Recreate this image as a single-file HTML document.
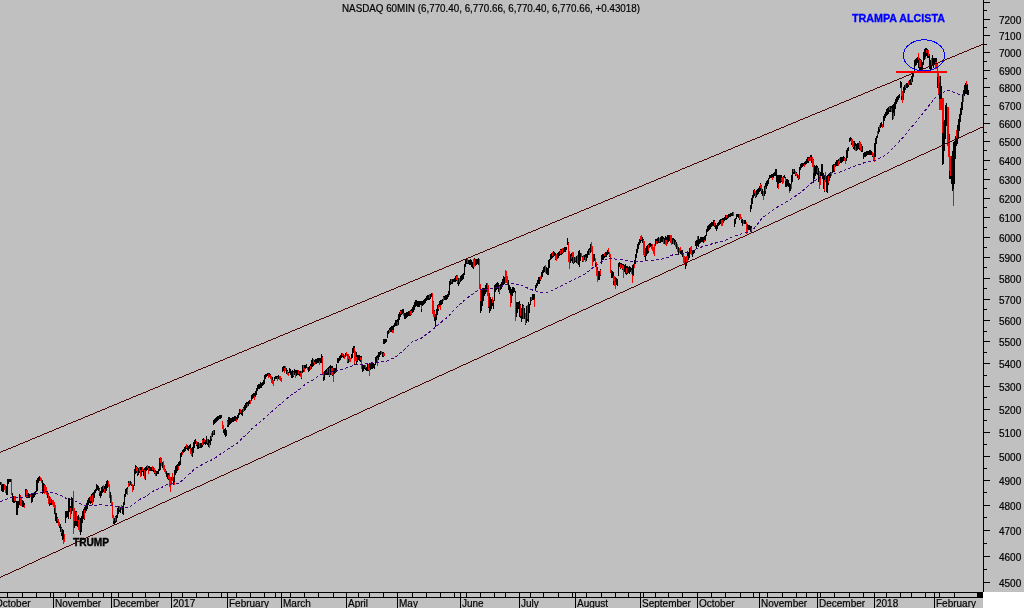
<!DOCTYPE html>
<html><head><meta charset="utf-8"><style>
html,body{margin:0;padding:0;}
body{width:1024px;height:608px;background:#c0c0c0;position:relative;overflow:hidden;font-family:"Liberation Sans",sans-serif;}
svg{position:absolute;left:0;top:0;will-change:transform;}
.ax{font-family:"Liberation Sans",sans-serif;font-size:10px;fill:#000;stroke:#000;stroke-width:0.2px;}
.bd{font-family:"Liberation Sans",sans-serif;font-size:11.6px;font-weight:bold;}
</style></head><body>
<svg width="1024" height="608" viewBox="0 0 1024 608" shape-rendering="crispEdges">
<rect x="983" y="592" width="41" height="16" fill="#fff"/>
<rect x="983" y="0" width="1" height="592" fill="#000"/>
<rect x="984" y="582" width="6" height="1" fill="#000"/>
<rect x="984" y="569" width="3" height="1" fill="#000"/>
<rect x="984" y="556" width="6" height="1" fill="#000"/>
<rect x="984" y="543" width="3" height="1" fill="#000"/>
<rect x="984" y="530" width="6" height="1" fill="#000"/>
<rect x="984" y="517" width="3" height="1" fill="#000"/>
<rect x="984" y="505" width="6" height="1" fill="#000"/>
<rect x="984" y="492" width="3" height="1" fill="#000"/>
<rect x="984" y="480" width="6" height="1" fill="#000"/>
<rect x="984" y="468" width="3" height="1" fill="#000"/>
<rect x="984" y="456" width="6" height="1" fill="#000"/>
<rect x="984" y="444" width="3" height="1" fill="#000"/>
<rect x="984" y="432" width="6" height="1" fill="#000"/>
<rect x="984" y="420" width="3" height="1" fill="#000"/>
<rect x="984" y="409" width="6" height="1" fill="#000"/>
<rect x="984" y="397" width="3" height="1" fill="#000"/>
<rect x="984" y="386" width="6" height="1" fill="#000"/>
<rect x="984" y="375" width="3" height="1" fill="#000"/>
<rect x="984" y="363" width="6" height="1" fill="#000"/>
<rect x="984" y="352" width="3" height="1" fill="#000"/>
<rect x="984" y="341" width="6" height="1" fill="#000"/>
<rect x="984" y="331" width="3" height="1" fill="#000"/>
<rect x="984" y="320" width="6" height="1" fill="#000"/>
<rect x="984" y="309" width="3" height="1" fill="#000"/>
<rect x="984" y="299" width="6" height="1" fill="#000"/>
<rect x="984" y="288" width="3" height="1" fill="#000"/>
<rect x="984" y="278" width="6" height="1" fill="#000"/>
<rect x="984" y="267" width="3" height="1" fill="#000"/>
<rect x="984" y="257" width="6" height="1" fill="#000"/>
<rect x="984" y="247" width="3" height="1" fill="#000"/>
<rect x="984" y="237" width="6" height="1" fill="#000"/>
<rect x="984" y="227" width="3" height="1" fill="#000"/>
<rect x="984" y="217" width="6" height="1" fill="#000"/>
<rect x="984" y="207" width="3" height="1" fill="#000"/>
<rect x="984" y="198" width="6" height="1" fill="#000"/>
<rect x="984" y="188" width="3" height="1" fill="#000"/>
<rect x="984" y="179" width="6" height="1" fill="#000"/>
<rect x="984" y="169" width="3" height="1" fill="#000"/>
<rect x="984" y="160" width="6" height="1" fill="#000"/>
<rect x="984" y="150" width="3" height="1" fill="#000"/>
<rect x="984" y="141" width="6" height="1" fill="#000"/>
<rect x="984" y="132" width="3" height="1" fill="#000"/>
<rect x="984" y="123" width="6" height="1" fill="#000"/>
<rect x="984" y="114" width="3" height="1" fill="#000"/>
<rect x="984" y="105" width="6" height="1" fill="#000"/>
<rect x="984" y="96" width="3" height="1" fill="#000"/>
<rect x="984" y="87" width="6" height="1" fill="#000"/>
<rect x="984" y="78" width="3" height="1" fill="#000"/>
<rect x="984" y="70" width="6" height="1" fill="#000"/>
<rect x="984" y="61" width="3" height="1" fill="#000"/>
<rect x="984" y="52" width="6" height="1" fill="#000"/>
<rect x="984" y="44" width="3" height="1" fill="#000"/>
<rect x="984" y="35" width="6" height="1" fill="#000"/>
<rect x="984" y="27" width="3" height="1" fill="#000"/>
<rect x="984" y="19" width="6" height="1" fill="#000"/>
<rect x="984" y="10" width="3" height="1" fill="#000"/>
<rect x="984" y="2" width="6" height="1" fill="#000"/>
<text x="999" y="587" class="ax">4500</text>
<text x="999" y="561" class="ax">4600</text>
<text x="999" y="535" class="ax">4700</text>
<text x="999" y="510" class="ax">4800</text>
<text x="999" y="485" class="ax">4900</text>
<text x="999" y="461" class="ax">5000</text>
<text x="999" y="437" class="ax">5100</text>
<text x="999" y="414" class="ax">5200</text>
<text x="999" y="391" class="ax">5300</text>
<text x="999" y="368" class="ax">5400</text>
<text x="999" y="346" class="ax">5500</text>
<text x="999" y="325" class="ax">5600</text>
<text x="999" y="304" class="ax">5700</text>
<text x="999" y="283" class="ax">5800</text>
<text x="999" y="262" class="ax">5900</text>
<text x="999" y="242" class="ax">6000</text>
<text x="999" y="222" class="ax">6100</text>
<text x="999" y="203" class="ax">6200</text>
<text x="999" y="184" class="ax">6300</text>
<text x="999" y="165" class="ax">6400</text>
<text x="999" y="146" class="ax">6500</text>
<text x="999" y="128" class="ax">6600</text>
<text x="999" y="110" class="ax">6700</text>
<text x="999" y="92" class="ax">6800</text>
<text x="999" y="75" class="ax">6900</text>
<text x="999" y="57" class="ax">7000</text>
<text x="999" y="40" class="ax">7100</text>
<text x="999" y="24" class="ax">7200</text>
<rect x="0" y="592" width="983" height="1" fill="#000"/>
<rect x="0" y="597" width="983" height="1" fill="#000"/>
<rect x="977" y="592" width="6" height="6" fill="#000"/>
<rect x="7" y="593" width="1" height="4" fill="#000"/>
<rect x="22" y="593" width="1" height="4" fill="#000"/>
<rect x="36" y="593" width="1" height="4" fill="#000"/>
<rect x="50" y="593" width="1" height="4" fill="#000"/>
<rect x="65" y="593" width="1" height="4" fill="#000"/>
<rect x="78" y="593" width="1" height="4" fill="#000"/>
<rect x="92" y="593" width="1" height="4" fill="#000"/>
<rect x="103" y="593" width="1" height="4" fill="#000"/>
<rect x="118" y="593" width="1" height="4" fill="#000"/>
<rect x="132" y="593" width="1" height="4" fill="#000"/>
<rect x="145" y="593" width="1" height="4" fill="#000"/>
<rect x="159" y="593" width="1" height="4" fill="#000"/>
<rect x="182" y="593" width="1" height="4" fill="#000"/>
<rect x="196" y="593" width="1" height="4" fill="#000"/>
<rect x="208" y="593" width="1" height="4" fill="#000"/>
<rect x="221" y="593" width="1" height="4" fill="#000"/>
<rect x="236" y="593" width="1" height="4" fill="#000"/>
<rect x="250" y="593" width="1" height="4" fill="#000"/>
<rect x="264" y="593" width="1" height="4" fill="#000"/>
<rect x="275" y="593" width="1" height="4" fill="#000"/>
<rect x="290" y="593" width="1" height="4" fill="#000"/>
<rect x="304" y="593" width="1" height="4" fill="#000"/>
<rect x="318" y="593" width="1" height="4" fill="#000"/>
<rect x="333" y="593" width="1" height="4" fill="#000"/>
<rect x="358" y="593" width="1" height="4" fill="#000"/>
<rect x="369" y="593" width="1" height="4" fill="#000"/>
<rect x="383" y="593" width="1" height="4" fill="#000"/>
<rect x="412" y="593" width="1" height="4" fill="#000"/>
<rect x="426" y="593" width="1" height="4" fill="#000"/>
<rect x="440" y="593" width="1" height="4" fill="#000"/>
<rect x="454" y="593" width="1" height="4" fill="#000"/>
<rect x="466" y="593" width="1" height="4" fill="#000"/>
<rect x="480" y="593" width="1" height="4" fill="#000"/>
<rect x="494" y="593" width="1" height="4" fill="#000"/>
<rect x="505" y="593" width="1" height="4" fill="#000"/>
<rect x="530" y="593" width="1" height="4" fill="#000"/>
<rect x="543" y="593" width="1" height="4" fill="#000"/>
<rect x="558" y="593" width="1" height="4" fill="#000"/>
<rect x="572" y="593" width="1" height="4" fill="#000"/>
<rect x="586" y="593" width="1" height="4" fill="#000"/>
<rect x="601" y="593" width="1" height="4" fill="#000"/>
<rect x="615" y="593" width="1" height="4" fill="#000"/>
<rect x="628" y="593" width="1" height="4" fill="#000"/>
<rect x="643" y="593" width="1" height="4" fill="#000"/>
<rect x="655" y="593" width="1" height="4" fill="#000"/>
<rect x="668" y="593" width="1" height="4" fill="#000"/>
<rect x="682" y="593" width="1" height="4" fill="#000"/>
<rect x="711" y="593" width="1" height="4" fill="#000"/>
<rect x="725" y="593" width="1" height="4" fill="#000"/>
<rect x="740" y="593" width="1" height="4" fill="#000"/>
<rect x="753" y="593" width="1" height="4" fill="#000"/>
<rect x="767" y="593" width="1" height="4" fill="#000"/>
<rect x="782" y="593" width="1" height="4" fill="#000"/>
<rect x="796" y="593" width="1" height="4" fill="#000"/>
<rect x="806" y="593" width="1" height="4" fill="#000"/>
<rect x="820" y="593" width="1" height="4" fill="#000"/>
<rect x="834" y="593" width="1" height="4" fill="#000"/>
<rect x="849" y="593" width="1" height="4" fill="#000"/>
<rect x="863" y="593" width="1" height="4" fill="#000"/>
<rect x="886" y="593" width="1" height="4" fill="#000"/>
<rect x="900" y="593" width="1" height="4" fill="#000"/>
<rect x="911" y="593" width="1" height="4" fill="#000"/>
<rect x="925" y="593" width="1" height="4" fill="#000"/>
<rect x="939" y="593" width="1" height="4" fill="#000"/>
<rect x="954" y="593" width="1" height="4" fill="#000"/>
<rect x="53" y="593" width="1" height="15" fill="#000"/>
<rect x="111" y="593" width="1" height="15" fill="#000"/>
<rect x="171" y="593" width="1" height="15" fill="#000"/>
<rect x="227" y="593" width="1" height="15" fill="#000"/>
<rect x="281" y="593" width="1" height="15" fill="#000"/>
<rect x="346" y="593" width="1" height="15" fill="#000"/>
<rect x="397" y="593" width="1" height="15" fill="#000"/>
<rect x="460" y="593" width="1" height="15" fill="#000"/>
<rect x="519" y="593" width="1" height="15" fill="#000"/>
<rect x="575" y="593" width="1" height="15" fill="#000"/>
<rect x="640" y="593" width="1" height="15" fill="#000"/>
<rect x="697" y="593" width="1" height="15" fill="#000"/>
<rect x="759" y="593" width="1" height="15" fill="#000"/>
<rect x="817" y="593" width="1" height="15" fill="#000"/>
<rect x="874" y="593" width="1" height="15" fill="#000"/>
<rect x="934" y="593" width="1" height="15" fill="#000"/>
<text x="55" y="607" class="ax">November</text>
<text x="113" y="607" class="ax">December</text>
<text x="173" y="607" class="ax">2017</text>
<text x="229" y="607" class="ax">February</text>
<text x="283" y="607" class="ax">March</text>
<text x="348" y="607" class="ax">April</text>
<text x="399" y="607" class="ax">May</text>
<text x="462" y="607" class="ax">June</text>
<text x="521" y="607" class="ax">July</text>
<text x="577" y="607" class="ax">August</text>
<text x="642" y="607" class="ax">September</text>
<text x="699" y="607" class="ax">October</text>
<text x="761" y="607" class="ax">November</text>
<text x="819" y="607" class="ax">December</text>
<text x="876" y="607" class="ax">2018</text>
<text x="936" y="607" class="ax">February</text>
<text x="-5" y="607" class="ax">October</text>
<path d="M0 482h1v3h-1zM1 482h1v9h-1zM2 484h1v8h-1zM3 484h1v8h-1zM4 484h1v6h-1zM5 485h1v8h-1zM6 486h1v9h-1zM7 479h1v16h-1zM8 479h1v5h-1zM9 479h1v3h-1zM10 479h1v3h-1zM11 479h1v16h-1zM12 493h1v9h-1zM13 496h1v7h-1zM14 496h1v7h-1zM15 496h1v6h-1zM16 501h1v14h-1zM17 501h1v14h-1zM18 501h1v7h-1zM19 494h1v11h-1zM20 495h1v11h-1zM21 497h1v9h-1zM22 500h1v7h-1zM23 501h1v6h-1zM24 503h1v5h-1zM25 489h1v8h-1zM26 489h1v9h-1zM27 490h1v8h-1zM28 493h1v5h-1zM29 494h1v4h-1zM30 494h1v3h-1zM31 493h1v10h-1zM32 493h1v9h-1zM33 493h1v5h-1zM34 492h1v5h-1zM35 491h1v4h-1zM36 480h1v12h-1zM37 478h1v13h-1zM38 477h1v6h-1zM39 476h1v5h-1zM40 477h1v4h-1zM41 478h1v5h-1zM42 480h1v14h-1zM43 483h1v10h-1zM44 484h1v10h-1zM45 485h1v8h-1zM46 487h1v8h-1zM47 491h1v7h-1zM48 493h1v11h-1zM49 496h1v10h-1zM50 497h1v8h-1zM51 499h1v6h-1zM52 500h1v5h-1zM53 500h1v7h-1zM54 502h1v12h-1zM55 505h1v16h-1zM56 513h1v10h-1zM57 517h1v6h-1zM58 519h1v7h-1zM59 522h1v6h-1zM60 524h1v8h-1zM61 527h1v9h-1zM62 529h1v11h-1zM63 530h1v14h-1zM64 534h1v8h-1zM65 511h1v12h-1zM66 511h1v7h-1zM67 511h1v6h-1zM68 498h1v21h-1zM69 498h1v14h-1zM70 506h1v13h-1zM71 497h1v17h-1zM72 498h1v13h-1zM73 491h1v43h-1zM74 508h1v20h-1zM75 511h1v15h-1zM76 511h1v15h-1zM77 516h1v11h-1zM78 515h1v15h-1zM79 517h1v15h-1zM80 518h1v17h-1zM81 516h1v16h-1zM82 511h1v12h-1zM83 509h1v10h-1zM84 507h1v13h-1zM85 505h1v8h-1zM86 503h1v8h-1zM87 500h1v9h-1zM88 498h1v7h-1zM89 497h1v6h-1zM90 496h1v8h-1zM91 494h1v9h-1zM92 493h1v12h-1zM93 492h1v10h-1zM94 490h1v8h-1zM95 489h1v4h-1zM96 484h1v7h-1zM97 485h1v5h-1zM98 486h1v5h-1zM99 488h1v8h-1zM100 491h1v7h-1zM101 487h1v9h-1zM102 486h1v7h-1zM103 485h1v7h-1zM104 486h1v7h-1zM105 484h1v9h-1zM106 481h1v10h-1zM107 480h1v8h-1zM108 481h1v6h-1zM109 484h1v14h-1zM110 492h1v11h-1zM111 495h1v11h-1zM112 502h1v16h-1zM113 515h1v9h-1zM114 518h1v7h-1zM115 516h1v7h-1zM116 515h1v7h-1zM117 508h1v10h-1zM118 506h1v8h-1zM119 506h1v6h-1zM120 507h1v6h-1zM121 505h1v5h-1zM122 506h1v8h-1zM123 502h1v13h-1zM124 494h1v11h-1zM125 489h1v8h-1zM126 488h1v6h-1zM127 487h1v8h-1zM128 481h1v6h-1zM129 481h1v5h-1zM130 481h1v4h-1zM131 482h1v4h-1zM132 484h1v8h-1zM133 485h1v5h-1zM134 469h1v17h-1zM135 465h1v9h-1zM136 466h1v7h-1zM137 467h1v9h-1zM138 468h1v7h-1zM139 467h1v6h-1zM140 467h1v10h-1zM141 467h1v9h-1zM142 467h1v5h-1zM143 469h1v7h-1zM144 468h1v11h-1zM145 467h1v13h-1zM146 466h1v5h-1zM147 465h1v5h-1zM148 466h1v8h-1zM149 466h1v5h-1zM150 467h1v4h-1zM151 467h1v4h-1zM152 466h1v5h-1zM153 467h1v5h-1zM154 468h1v6h-1zM155 470h1v6h-1zM156 471h1v5h-1zM157 471h1v3h-1zM158 469h1v5h-1zM159 458h1v13h-1zM160 457h1v13h-1zM161 458h1v8h-1zM162 462h1v6h-1zM163 461h1v9h-1zM164 465h1v7h-1zM165 469h1v5h-1zM166 471h1v6h-1zM167 473h1v6h-1zM168 473h1v7h-1zM169 473h1v14h-1zM170 477h1v15h-1zM171 477h1v8h-1zM172 473h1v8h-1zM173 477h1v8h-1zM174 470h1v15h-1zM175 466h1v9h-1zM176 465h1v8h-1zM177 464h1v7h-1zM178 462h1v8h-1zM179 461h1v5h-1zM180 453h1v12h-1zM181 452h1v5h-1zM182 450h1v5h-1zM183 449h1v4h-1zM184 447h1v5h-1zM185 446h1v5h-1zM186 444h1v5h-1zM187 445h1v5h-1zM188 446h1v5h-1zM189 445h1v4h-1zM190 444h1v10h-1zM191 448h1v8h-1zM192 447h1v10h-1zM193 442h1v11h-1zM194 440h1v8h-1zM195 439h1v5h-1zM196 441h1v5h-1zM197 442h1v7h-1zM198 442h1v7h-1zM199 443h1v5h-1zM200 443h1v5h-1zM201 443h1v5h-1zM202 439h1v8h-1zM203 438h1v7h-1zM204 439h1v5h-1zM205 440h1v5h-1zM206 436h1v8h-1zM207 439h1v6h-1zM208 439h1v8h-1zM209 440h1v8h-1zM210 436h1v9h-1zM211 433h1v8h-1zM212 431h1v6h-1zM213 420h1v5h-1zM214 419h1v5h-1zM215 418h1v5h-1zM216 417h1v5h-1zM217 416h1v5h-1zM218 416h1v4h-1zM219 415h1v4h-1zM220 415h1v4h-1zM221 415h1v3h-1zM222 421h1v8h-1zM223 425h1v8h-1zM224 429h1v6h-1zM225 428h1v9h-1zM226 430h1v6h-1zM227 420h1v7h-1zM228 417h1v10h-1zM229 417h1v8h-1zM230 418h1v6h-1zM231 418h1v5h-1zM232 417h1v5h-1zM233 417h1v5h-1zM234 416h1v5h-1zM235 416h1v5h-1zM236 417h1v5h-1zM237 415h1v5h-1zM238 413h1v5h-1zM239 409h1v6h-1zM240 409h1v5h-1zM241 410h1v5h-1zM242 409h1v7h-1zM243 407h1v5h-1zM244 405h1v6h-1zM245 403h1v7h-1zM246 402h1v6h-1zM247 402h1v5h-1zM248 401h1v5h-1zM249 400h1v4h-1zM250 400h1v4h-1zM251 395h1v6h-1zM252 394h1v5h-1zM253 393h1v5h-1zM254 393h1v7h-1zM255 391h1v6h-1zM256 388h1v7h-1zM257 385h1v6h-1zM258 384h1v5h-1zM259 384h1v5h-1zM260 382h1v6h-1zM261 383h1v5h-1zM262 382h1v4h-1zM263 380h1v5h-1zM264 375h1v9h-1zM265 374h1v5h-1zM266 374h1v3h-1zM267 373h1v3h-1zM268 373h1v5h-1zM269 373h1v4h-1zM270 374h1v5h-1zM271 376h1v7h-1zM272 377h1v7h-1zM273 380h1v6h-1zM274 377h1v4h-1zM275 376h1v3h-1zM276 376h1v3h-1zM277 376h1v5h-1zM278 375h1v4h-1zM279 376h1v4h-1zM280 376h1v5h-1zM281 378h1v4h-1zM282 367h1v5h-1zM283 366h1v5h-1zM284 366h1v7h-1zM285 366h1v5h-1zM286 368h1v6h-1zM287 370h1v5h-1zM288 372h1v4h-1zM289 368h1v5h-1zM290 369h1v6h-1zM291 371h1v7h-1zM292 370h1v8h-1zM293 371h1v6h-1zM294 369h1v6h-1zM295 370h1v8h-1zM296 370h1v6h-1zM297 370h1v5h-1zM298 370h1v5h-1zM299 371h1v5h-1zM300 371h1v6h-1zM301 371h1v8h-1zM302 365h1v8h-1zM303 365h1v7h-1zM304 365h1v7h-1zM305 365h1v4h-1zM306 364h1v4h-1zM307 367h1v3h-1zM308 367h1v5h-1zM309 366h1v5h-1zM310 364h1v6h-1zM311 360h1v9h-1zM312 358h1v9h-1zM313 359h1v7h-1zM314 360h1v5h-1zM315 359h1v5h-1zM316 359h1v5h-1zM317 358h1v5h-1zM318 358h1v5h-1zM319 358h1v7h-1zM320 358h1v5h-1zM321 354h1v9h-1zM322 356h1v18h-1zM323 372h1v9h-1zM324 371h1v9h-1zM325 370h1v5h-1zM326 369h1v6h-1zM327 368h1v7h-1zM328 367h1v8h-1zM329 366h1v11h-1zM330 365h1v10h-1zM331 366h1v9h-1zM332 366h1v10h-1zM333 368h1v14h-1zM334 368h1v6h-1zM335 368h1v5h-1zM336 364h1v8h-1zM337 358h1v5h-1zM338 358h1v5h-1zM339 356h1v5h-1zM340 355h1v5h-1zM341 353h1v5h-1zM342 353h1v4h-1zM343 354h1v4h-1zM344 355h1v4h-1zM345 353h1v4h-1zM346 352h1v4h-1zM347 354h1v9h-1zM348 354h1v9h-1zM349 356h1v6h-1zM350 358h1v4h-1zM351 354h1v5h-1zM352 348h1v10h-1zM353 346h1v7h-1zM354 346h1v19h-1zM355 351h1v10h-1zM356 352h1v12h-1zM357 355h1v7h-1zM358 355h1v5h-1zM359 355h1v6h-1zM360 356h1v6h-1zM361 356h1v13h-1zM362 364h1v8h-1zM363 365h1v6h-1zM364 365h1v4h-1zM365 365h1v5h-1zM366 367h1v4h-1zM367 364h1v7h-1zM368 364h1v7h-1zM369 363h1v13h-1zM370 363h1v7h-1zM371 362h1v7h-1zM372 362h1v7h-1zM373 363h1v5h-1zM374 364h1v5h-1zM375 357h1v8h-1zM376 356h1v7h-1zM377 355h1v11h-1zM378 352h1v8h-1zM379 352h1v5h-1zM380 351h1v4h-1zM381 351h1v3h-1zM382 352h1v5h-1zM383 352h1v5h-1zM384 353h1v3h-1zM385 339h1v4h-1zM386 339h1v3h-1zM387 331h1v7h-1zM388 330h1v4h-1zM389 328h1v5h-1zM390 327h1v5h-1zM391 326h1v6h-1zM392 326h1v7h-1zM393 325h1v8h-1zM394 323h1v4h-1zM395 320h1v6h-1zM396 320h1v6h-1zM397 319h1v7h-1zM398 314h1v11h-1zM399 312h1v8h-1zM400 310h1v7h-1zM401 310h1v5h-1zM402 309h1v5h-1zM403 309h1v7h-1zM404 313h1v6h-1zM405 313h1v6h-1zM406 312h1v6h-1zM407 312h1v5h-1zM408 311h1v5h-1zM409 311h1v5h-1zM410 310h1v6h-1zM411 309h1v6h-1zM412 307h1v6h-1zM413 305h1v7h-1zM414 302h1v8h-1zM415 300h1v7h-1zM416 300h1v6h-1zM417 301h1v6h-1zM418 301h1v6h-1zM419 301h1v6h-1zM420 301h1v4h-1zM421 301h1v11h-1zM422 301h1v5h-1zM423 300h1v5h-1zM424 299h1v5h-1zM425 298h1v5h-1zM426 296h1v5h-1zM427 295h1v5h-1zM428 295h1v5h-1zM429 294h1v6h-1zM430 294h1v5h-1zM431 293h1v4h-1zM432 293h1v21h-1zM433 301h1v16h-1zM434 310h1v11h-1zM435 314h1v13h-1zM436 309h1v11h-1zM437 305h1v10h-1zM438 304h1v7h-1zM439 301h1v6h-1zM440 300h1v10h-1zM441 300h1v5h-1zM442 299h1v5h-1zM443 296h1v5h-1zM444 296h1v4h-1zM445 295h1v5h-1zM446 295h1v5h-1zM447 294h1v5h-1zM448 291h1v6h-1zM449 281h1v14h-1zM450 279h1v6h-1zM451 279h1v5h-1zM452 279h1v5h-1zM453 279h1v3h-1zM454 278h1v4h-1zM455 276h1v6h-1zM456 275h1v6h-1zM457 275h1v9h-1zM458 278h1v8h-1zM459 278h1v6h-1zM460 276h1v6h-1zM461 275h1v6h-1zM462 274h1v6h-1zM463 273h1v6h-1zM464 264h1v11h-1zM465 260h1v7h-1zM466 259h1v5h-1zM467 259h1v5h-1zM468 260h1v4h-1zM469 260h1v5h-1zM470 259h1v6h-1zM471 260h1v7h-1zM472 262h1v6h-1zM473 259h1v10h-1zM474 258h1v9h-1zM475 259h1v7h-1zM476 259h1v6h-1zM477 259h1v5h-1zM478 258h1v7h-1zM479 259h1v30h-1zM480 284h1v29h-1zM481 289h1v22h-1zM482 288h1v18h-1zM483 288h1v13h-1zM484 288h1v8h-1zM485 285h1v9h-1zM486 283h1v9h-1zM487 283h1v13h-1zM488 285h1v23h-1zM489 293h1v20h-1zM490 297h1v14h-1zM491 299h1v10h-1zM492 297h1v9h-1zM493 300h1v9h-1zM494 285h1v16h-1zM495 284h1v8h-1zM496 283h1v7h-1zM497 282h1v7h-1zM498 283h1v9h-1zM499 285h1v9h-1zM500 284h1v6h-1zM501 282h1v7h-1zM502 279h1v7h-1zM503 276h1v9h-1zM504 277h1v7h-1zM505 270h1v13h-1zM506 271h1v12h-1zM507 276h1v8h-1zM508 280h1v10h-1zM509 285h1v8h-1zM510 287h1v20h-1zM511 289h1v14h-1zM512 287h1v9h-1zM513 287h1v6h-1zM514 288h1v4h-1zM515 291h1v30h-1zM516 302h1v15h-1zM517 302h1v11h-1zM518 302h1v7h-1zM519 301h1v16h-1zM520 304h1v14h-1zM521 308h1v14h-1zM522 304h1v15h-1zM523 305h1v14h-1zM524 308h1v11h-1zM525 313h1v12h-1zM526 306h1v17h-1zM527 305h1v16h-1zM528 302h1v20h-1zM529 304h1v9h-1zM530 297h1v8h-1zM531 297h1v4h-1zM532 294h1v6h-1zM533 294h1v6h-1zM534 294h1v13h-1zM535 285h1v5h-1zM536 283h1v5h-1zM537 280h1v6h-1zM538 277h1v7h-1zM539 277h1v7h-1zM540 276h1v5h-1zM541 272h1v7h-1zM542 270h1v7h-1zM543 267h1v6h-1zM544 266h1v6h-1zM545 265h1v8h-1zM546 267h1v7h-1zM547 268h1v7h-1zM548 260h1v15h-1zM549 259h1v9h-1zM550 254h1v6h-1zM551 253h1v6h-1zM552 252h1v6h-1zM553 251h1v6h-1zM554 252h1v4h-1zM555 253h1v7h-1zM556 254h1v7h-1zM557 253h1v6h-1zM558 252h1v6h-1zM559 251h1v5h-1zM560 249h1v6h-1zM561 249h1v6h-1zM562 248h1v6h-1zM563 248h1v5h-1zM564 247h1v5h-1zM565 247h1v5h-1zM566 247h1v3h-1zM567 238h1v7h-1zM568 242h1v20h-1zM569 251h1v18h-1zM570 254h1v9h-1zM571 253h1v8h-1zM572 255h1v8h-1zM573 252h1v12h-1zM574 257h1v6h-1zM575 257h1v5h-1zM576 256h1v7h-1zM577 255h1v9h-1zM578 251h1v14h-1zM579 250h1v17h-1zM580 253h1v8h-1zM581 253h1v4h-1zM582 256h1v6h-1zM583 255h1v7h-1zM584 255h1v5h-1zM585 254h1v8h-1zM586 254h1v7h-1zM587 251h1v7h-1zM588 249h1v6h-1zM589 248h1v7h-1zM590 244h1v9h-1zM591 242h1v10h-1zM592 246h1v20h-1zM593 254h1v8h-1zM594 254h1v7h-1zM595 258h1v9h-1zM596 262h1v14h-1zM597 267h1v15h-1zM598 271h1v9h-1zM599 271h1v9h-1zM600 269h1v7h-1zM601 255h1v9h-1zM602 254h1v6h-1zM603 254h1v6h-1zM604 253h1v5h-1zM605 252h1v5h-1zM606 252h1v5h-1zM607 250h1v5h-1zM608 248h1v6h-1zM609 252h1v5h-1zM610 254h1v19h-1zM611 270h1v8h-1zM612 271h1v7h-1zM613 272h1v13h-1zM614 276h1v10h-1zM615 277h1v12h-1zM616 278h1v7h-1zM617 279h1v7h-1zM618 263h1v13h-1zM619 262h1v5h-1zM620 263h1v6h-1zM621 263h1v5h-1zM622 264h1v6h-1zM623 264h1v14h-1zM624 265h1v7h-1zM625 264h1v10h-1zM626 266h1v9h-1zM627 266h1v8h-1zM628 267h1v6h-1zM629 266h1v8h-1zM630 267h1v5h-1zM631 268h1v6h-1zM632 265h1v18h-1zM633 264h1v12h-1zM634 260h1v8h-1zM635 254h1v10h-1zM636 249h1v9h-1zM637 244h1v9h-1zM638 242h1v7h-1zM639 239h1v6h-1zM640 236h1v7h-1zM641 235h1v6h-1zM642 237h1v6h-1zM643 239h1v16h-1zM644 241h1v16h-1zM645 248h1v13h-1zM646 246h1v10h-1zM647 245h1v9h-1zM648 244h1v9h-1zM649 243h1v5h-1zM650 243h1v4h-1zM651 244h1v5h-1zM652 244h1v7h-1zM653 247h1v7h-1zM654 251h1v5h-1zM655 239h1v7h-1zM656 239h1v5h-1zM657 238h1v6h-1zM658 237h1v6h-1zM659 238h1v5h-1zM660 237h1v6h-1zM661 236h1v6h-1zM662 236h1v6h-1zM663 237h1v7h-1zM664 238h1v6h-1zM665 236h1v9h-1zM666 237h1v9h-1zM667 235h1v9h-1zM668 235h1v7h-1zM669 235h1v6h-1zM670 235h1v8h-1zM671 235h1v10h-1zM672 238h1v6h-1zM673 238h1v6h-1zM674 239h1v6h-1zM675 240h1v7h-1zM676 242h1v7h-1zM677 244h1v8h-1zM678 247h1v8h-1zM679 248h1v5h-1zM680 247h1v7h-1zM681 250h1v5h-1zM682 250h1v7h-1zM683 254h1v9h-1zM684 256h1v9h-1zM685 257h1v12h-1zM686 256h1v10h-1zM687 253h1v10h-1zM688 252h1v8h-1zM689 248h1v10h-1zM690 247h1v7h-1zM691 246h1v9h-1zM692 250h1v7h-1zM693 250h1v4h-1zM694 250h1v3h-1zM695 241h1v5h-1zM696 240h1v8h-1zM697 236h1v10h-1zM698 236h1v11h-1zM699 239h1v5h-1zM700 237h1v6h-1zM701 237h1v5h-1zM702 237h1v5h-1zM703 237h1v6h-1zM704 236h1v6h-1zM705 235h1v6h-1zM706 229h1v7h-1zM707 226h1v6h-1zM708 225h1v6h-1zM709 224h1v6h-1zM710 223h1v6h-1zM711 222h1v5h-1zM712 222h1v4h-1zM713 220h1v6h-1zM714 220h1v7h-1zM715 223h1v6h-1zM716 225h1v6h-1zM717 223h1v6h-1zM718 222h1v4h-1zM719 220h1v5h-1zM720 219h1v5h-1zM721 219h1v7h-1zM722 218h1v8h-1zM723 218h1v5h-1zM724 217h1v4h-1zM725 215h1v5h-1zM726 215h1v5h-1zM727 215h1v4h-1zM728 214h1v4h-1zM729 214h1v3h-1zM730 213h1v4h-1zM731 213h1v3h-1zM732 212h1v4h-1zM733 212h1v4h-1zM734 219h1v8h-1zM735 218h1v6h-1zM736 214h1v5h-1zM737 214h1v3h-1zM738 214h1v4h-1zM739 214h1v6h-1zM740 214h1v5h-1zM741 217h1v6h-1zM742 219h1v7h-1zM743 220h1v4h-1zM744 220h1v4h-1zM745 220h1v4h-1zM746 222h1v12h-1zM747 224h1v9h-1zM748 225h1v5h-1zM749 225h1v5h-1zM750 205h1v7h-1zM751 198h1v11h-1zM752 195h1v9h-1zM753 190h1v8h-1zM754 189h1v7h-1zM755 191h1v7h-1zM756 190h1v7h-1zM757 189h1v6h-1zM758 188h1v6h-1zM759 186h1v6h-1zM760 183h1v8h-1zM761 185h1v9h-1zM762 189h1v7h-1zM763 191h1v9h-1zM764 186h1v10h-1zM765 183h1v11h-1zM766 181h1v8h-1zM767 180h1v6h-1zM768 178h1v6h-1zM769 175h1v4h-1zM770 175h1v3h-1zM771 174h1v4h-1zM772 174h1v6h-1zM773 173h1v5h-1zM774 172h1v4h-1zM775 169h1v7h-1zM776 169h1v13h-1zM777 175h1v13h-1zM778 175h1v14h-1zM779 175h1v8h-1zM780 175h1v8h-1zM781 175h1v7h-1zM782 177h1v7h-1zM783 176h1v7h-1zM784 175h1v3h-1zM785 177h1v10h-1zM786 179h1v8h-1zM787 179h1v7h-1zM788 180h1v7h-1zM789 183h1v10h-1zM790 184h1v7h-1zM791 175h1v14h-1zM792 169h1v13h-1zM793 169h1v5h-1zM794 169h1v5h-1zM795 171h1v5h-1zM796 172h1v4h-1zM797 174h1v4h-1zM798 175h1v5h-1zM799 167h1v12h-1zM800 164h1v6h-1zM801 163h1v5h-1zM802 163h1v4h-1zM803 163h1v3h-1zM804 162h1v5h-1zM805 161h1v4h-1zM806 159h1v5h-1zM807 157h1v6h-1zM808 157h1v6h-1zM809 157h1v4h-1zM810 155h1v6h-1zM811 155h1v8h-1zM812 157h1v10h-1zM813 159h1v24h-1zM814 165h1v14h-1zM815 166h1v10h-1zM816 165h1v9h-1zM817 166h1v9h-1zM818 168h1v14h-1zM819 171h1v18h-1zM820 172h1v13h-1zM821 164h1v12h-1zM822 164h1v15h-1zM823 173h1v16h-1zM824 175h1v17h-1zM825 172h1v10h-1zM826 176h1v16h-1zM827 175h1v18h-1zM828 174h1v11h-1zM829 173h1v8h-1zM830 172h1v6h-1zM831 172h1v4h-1zM832 165h1v8h-1zM833 164h1v8h-1zM834 164h1v8h-1zM835 162h1v5h-1zM836 160h1v6h-1zM837 160h1v6h-1zM838 159h1v7h-1zM839 158h1v6h-1zM840 157h1v6h-1zM841 157h1v6h-1zM842 157h1v5h-1zM843 156h1v5h-1zM844 157h1v4h-1zM845 158h1v6h-1zM846 150h1v11h-1zM847 148h1v10h-1zM848 147h1v4h-1zM849 138h1v4h-1zM850 137h1v4h-1zM851 138h1v7h-1zM852 139h1v8h-1zM853 141h1v8h-1zM854 141h1v9h-1zM855 143h1v8h-1zM856 144h1v7h-1zM857 143h1v7h-1zM858 143h1v6h-1zM859 141h1v9h-1zM860 142h1v9h-1zM861 144h1v8h-1zM862 146h1v6h-1zM863 153h1v6h-1zM864 152h1v5h-1zM865 152h1v5h-1zM866 151h1v5h-1zM867 151h1v4h-1zM868 151h1v4h-1zM869 150h1v5h-1zM870 150h1v5h-1zM871 151h1v4h-1zM872 152h1v5h-1zM873 153h1v7h-1zM874 143h1v19h-1zM875 138h1v19h-1zM876 136h1v8h-1zM877 131h1v7h-1zM878 127h1v7h-1zM879 125h1v7h-1zM880 123h1v5h-1zM881 122h1v5h-1zM882 124h1v4h-1zM883 116h1v11h-1zM884 114h1v7h-1zM885 112h1v6h-1zM886 109h1v7h-1zM887 108h1v7h-1zM888 107h1v7h-1zM889 106h1v6h-1zM890 106h1v6h-1zM891 106h1v6h-1zM892 105h1v15h-1zM893 104h1v15h-1zM894 102h1v14h-1zM895 99h1v10h-1zM896 97h1v7h-1zM897 96h1v6h-1zM898 95h1v5h-1zM899 94h1v4h-1zM900 81h1v7h-1zM901 82h1v18h-1zM902 91h1v12h-1zM903 87h1v13h-1zM904 85h1v8h-1zM905 84h1v6h-1zM906 83h1v5h-1zM907 83h1v5h-1zM908 81h1v6h-1zM909 80h1v5h-1zM910 79h1v6h-1zM911 76h1v9h-1zM912 73h1v9h-1zM913 72h1v5h-1zM914 60h1v13h-1zM915 59h1v7h-1zM916 58h1v7h-1zM917 57h1v6h-1zM918 53h1v15h-1zM919 58h1v13h-1zM920 59h1v11h-1zM921 60h1v9h-1zM922 62h1v9h-1zM923 52h1v13h-1zM924 49h1v11h-1zM925 48h1v11h-1zM926 48h1v8h-1zM927 49h1v9h-1zM928 50h1v8h-1zM929 54h1v15h-1zM930 60h1v10h-1zM931 58h1v11h-1zM932 55h1v11h-1zM933 58h1v10h-1zM934 58h1v7h-1zM935 58h1v11h-1zM936 58h1v11h-1zM937 63h1v25h-1zM938 72h1v22h-1zM939 76h1v34h-1zM940 76h1v34h-1zM941 86h1v24h-1zM942 98h1v67h-1zM943 98h1v66h-1zM944 120h1v31h-1zM945 105h1v34h-1zM946 103h1v23h-1zM947 107h1v39h-1zM948 107h1v50h-1zM949 134h1v45h-1zM950 156h1v23h-1zM951 156h1v28h-1zM952 151h1v40h-1zM953 142h1v49h-1zM954 141h1v43h-1zM955 136h1v23h-1zM956 130h1v16h-1zM957 125h1v19h-1zM958 119h1v20h-1zM959 114h1v17h-1zM960 108h1v14h-1zM961 102h1v13h-1zM962 95h1v15h-1zM963 90h1v12h-1zM964 85h1v11h-1zM965 83h1v11h-1zM966 81h1v13h-1zM967 84h1v11h-1zM968 90h1v5h-1zM750 226h2v6h-2zM213 430h2v5h-2zM383 339h2v5h-2z" fill="#000"/>
<path d="M1 482h1v3h-1zM4 484h1v6h-1zM5 485h1v8h-1zM11 479h1v16h-1zM14 496h1v5h-1zM15 496h1v5h-1zM20 495h1v11h-1zM21 497h1v9h-1zM24 505h1v3h-1zM26 490h1v7h-1zM27 490h1v7h-1zM30 494h1v3h-1zM40 477h1v4h-1zM41 478h1v5h-1zM44 485h1v9h-1zM45 485h1v8h-1zM46 487h1v8h-1zM48 494h1v10h-1zM50 497h1v6h-1zM52 500h1v5h-1zM53 500h1v7h-1zM54 502h1v6h-1zM55 505h1v8h-1zM57 518h1v3h-1zM58 519h1v7h-1zM59 522h1v4h-1zM61 528h1v5h-1zM63 539h1v5h-1zM64 534h1v8h-1zM70 508h1v10h-1zM73 491h1v43h-1zM74 508h1v13h-1zM76 512h1v9h-1zM78 520h1v10h-1zM79 517h1v15h-1zM84 510h1v9h-1zM90 496h1v5h-1zM92 495h1v9h-1zM99 489h1v4h-1zM103 485h1v4h-1zM104 489h1v4h-1zM108 481h1v6h-1zM109 484h1v14h-1zM111 495h1v11h-1zM112 502h1v16h-1zM113 515h1v6h-1zM115 517h1v4h-1zM119 506h1v4h-1zM121 505h1v5h-1zM127 489h1v6h-1zM129 481h1v3h-1zM128 483h1v4h-1zM131 482h1v3h-1zM132 484h1v8h-1zM136 467h1v4h-1zM137 468h1v6h-1zM139 467h1v4h-1zM140 470h1v7h-1zM142 467h1v4h-1zM144 470h1v9h-1zM147 465h1v3h-1zM148 468h1v6h-1zM152 466h1v4h-1zM154 468h1v5h-1zM155 472h1v4h-1zM160 457h1v6h-1zM161 459h1v7h-1zM163 461h1v9h-1zM164 465h1v7h-1zM165 470h1v4h-1zM168 475h1v4h-1zM169 473h1v14h-1zM170 477h1v15h-1zM171 480h1v5h-1zM172 473h1v8h-1zM174 482h1v3h-1zM178 466h1v4h-1zM182 452h1v3h-1zM186 444h1v4h-1zM190 448h1v6h-1zM191 451h1v5h-1zM196 441h1v4h-1zM199 443h1v4h-1zM202 440h1v5h-1zM204 439h1v3h-1zM207 439h1v4h-1zM209 443h1v5h-1zM211 433h1v6h-1zM213 430h1v4h-1zM222 421h1v8h-1zM223 425h1v5h-1zM227 421h1v4h-1zM236 419h1v3h-1zM240 409h1v4h-1zM243 408h1v4h-1zM247 404h1v3h-1zM250 400h1v4h-1zM254 396h1v4h-1zM268 374h1v4h-1zM270 375h1v4h-1zM271 376h1v7h-1zM272 380h1v4h-1zM273 380h1v6h-1zM277 377h1v4h-1zM279 376h1v4h-1zM280 376h1v5h-1zM281 379h1v3h-1zM284 368h1v5h-1zM285 366h1v5h-1zM287 371h1v4h-1zM288 373h1v3h-1zM287 371h1v4h-1zM293 372h1v4h-1zM295 373h1v5h-1zM298 370h1v4h-1zM300 373h1v4h-1zM301 371h1v7h-1zM303 365h1v5h-1zM304 368h1v4h-1zM307 367h1v3h-1zM310 366h1v4h-1zM313 359h1v4h-1zM314 362h1v3h-1zM319 361h1v4h-1zM322 357h1v17h-1zM323 372h1v5h-1zM327 369h1v4h-1zM329 368h1v8h-1zM331 368h1v7h-1zM332 368h1v7h-1zM333 375h1v7h-1zM342 353h1v3h-1zM344 355h1v4h-1zM346 352h1v4h-1zM347 356h1v6h-1zM348 354h1v5h-1zM349 358h1v4h-1zM350 358h1v4h-1zM354 348h1v16h-1zM355 351h1v10h-1zM356 357h1v4h-1zM360 357h1v3h-1zM361 358h1v11h-1zM365 365h1v3h-1zM368 364h1v6h-1zM369 368h1v8h-1zM377 358h1v8h-1zM381 351h1v3h-1zM383 353h1v3h-1zM384 353h1v3h-1zM389 330h1v3h-1zM392 330h1v3h-1zM393 330h1v3h-1zM397 322h1v4h-1zM400 311h1v3h-1zM403 313h1v3h-1zM410 311h1v4h-1zM411 311h1v4h-1zM421 305h1v4h-1zM429 294h1v4h-1zM432 293h1v21h-1zM433 302h1v15h-1zM434 311h1v6h-1zM438 305h1v4h-1zM440 305h1v5h-1zM443 297h1v4h-1zM451 279h1v3h-1zM456 276h1v4h-1zM457 275h1v8h-1zM459 278h1v4h-1zM467 259h1v4h-1zM473 259h1v8h-1zM474 259h1v8h-1zM479 259h1v30h-1zM480 284h1v17h-1zM487 283h1v13h-1zM488 285h1v22h-1zM492 297h1v6h-1zM499 286h1v7h-1zM505 270h1v13h-1zM506 271h1v12h-1zM507 276h1v8h-1zM510 295h1v12h-1zM515 293h1v28h-1zM520 305h1v11h-1zM523 306h1v13h-1zM525 313h1v11h-1zM527 305h1v14h-1zM531 297h1v3h-1zM534 299h1v8h-1zM540 276h1v4h-1zM545 265h1v8h-1zM552 252h1v4h-1zM555 255h1v4h-1zM556 254h1v7h-1zM560 250h1v4h-1zM562 248h1v5h-1zM568 243h1v19h-1zM569 251h1v18h-1zM572 252h1v5h-1zM571 256h1v3h-1zM573 252h1v11h-1zM575 257h1v4h-1zM577 255h1v9h-1zM581 253h1v4h-1zM582 257h1v4h-1zM583 255h1v7h-1zM585 257h1v5h-1zM589 250h1v5h-1zM591 242h1v10h-1zM592 246h1v20h-1zM595 258h1v5h-1zM596 262h1v14h-1zM597 270h1v12h-1zM600 270h1v5h-1zM604 253h1v3h-1zM608 248h1v4h-1zM609 252h1v4h-1zM610 254h1v19h-1zM613 276h1v5h-1zM614 276h1v10h-1zM615 282h1v7h-1zM620 264h1v4h-1zM622 265h1v4h-1zM623 266h1v12h-1zM626 268h1v5h-1zM631 270h1v4h-1zM632 275h1v8h-1zM634 264h1v4h-1zM640 236h1v4h-1zM641 235h1v5h-1zM643 240h1v15h-1zM644 241h1v15h-1zM648 245h1v6h-1zM651 246h1v3h-1zM652 244h1v7h-1zM653 247h1v7h-1zM654 244h1v12h-1zM656 241h1v3h-1zM659 238h1v4h-1zM663 239h1v5h-1zM665 240h1v5h-1zM666 240h1v6h-1zM670 235h1v8h-1zM671 235h1v10h-1zM673 240h1v4h-1zM675 242h1v5h-1zM677 244h1v8h-1zM679 248h1v5h-1zM680 247h1v4h-1zM683 254h1v9h-1zM684 256h1v9h-1zM686 256h1v7h-1zM687 256h1v7h-1zM690 247h1v7h-1zM691 246h1v9h-1zM697 236h1v4h-1zM704 240h1v2h-1zM714 221h1v5h-1zM721 220h1v6h-1zM722 220h1v6h-1zM726 215h1v3h-1zM733 212h1v4h-1zM739 214h1v5h-1zM740 214h1v5h-1zM741 217h1v3h-1zM743 220h1v4h-1zM746 222h1v12h-1zM747 229h1v4h-1zM751 228h1v4h-1zM754 190h1v3h-1zM755 191h1v6h-1zM760 184h1v4h-1zM761 186h1v5h-1zM763 191h1v9h-1zM765 187h1v4h-1zM772 177h1v3h-1zM778 184h1v5h-1zM781 178h1v3h-1zM782 177h1v7h-1zM783 177h1v6h-1zM785 178h1v3h-1zM789 191h1v2h-1zM791 184h1v5h-1zM793 169h1v3h-1zM795 171h1v4h-1zM796 173h1v3h-1zM798 175h1v4h-1zM804 164h1v3h-1zM808 158h1v3h-1zM810 157h1v4h-1zM812 157h1v10h-1zM813 160h1v13h-1zM817 168h1v5h-1zM819 171h1v18h-1zM820 176h1v9h-1zM824 180h1v11h-1zM825 172h1v10h-1zM828 176h1v7h-1zM831 172h1v4h-1zM834 165h1v6h-1zM838 161h1v5h-1zM839 158h1v5h-1zM844 158h1v3h-1zM845 158h1v6h-1zM851 139h1v4h-1zM852 139h1v8h-1zM853 142h1v5h-1zM855 146h1v5h-1zM859 142h1v6h-1zM860 142h1v9h-1zM861 145h1v5h-1zM872 152h1v4h-1zM873 153h1v7h-1zM874 157h1v5h-1zM877 131h1v4h-1zM879 125h1v4h-1zM882 124h1v4h-1zM889 106h1v4h-1zM891 108h1v4h-1zM893 113h1v6h-1zM901 87h1v9h-1zM902 91h1v12h-1zM905 84h1v4h-1zM908 81h1v4h-1zM911 79h1v4h-1zM918 53h1v7h-1zM919 60h1v7h-1zM920 60h1v7h-1zM925 57h1v2h-1zM926 50h1v3h-1zM928 50h1v6h-1zM931 58h1v7h-1zM935 62h1v7h-1zM936 62h1v7h-1zM937 63h1v14h-1zM938 73h1v10h-1zM939 76h1v7h-1zM939 99h1v11h-1zM940 99h1v11h-1zM941 99h1v11h-1zM938 76h1v18h-1zM942 98h1v35h-1zM943 98h1v24h-1zM947 107h1v39h-1zM948 107h1v50h-1zM949 140h1v31h-1zM950 156h1v20h-1zM953 189h1v17h-1zM956 130h1v9h-1zM963 95h1v7h-1zM966 81h1v4h-1z" fill="#ff0000"/>
<polyline points="0.0,501.6 4.7,500.0 10.3,497.6 15.8,497.2 22.1,497.2 26.0,496.0 31.6,493.7 37.1,493.3 44.2,491.3 48.9,492.5 55.2,493.3 61.0,495.5 67.0,498.9 75.3,501.2 83.6,505.4 89.5,505.4 101.3,504.8 113.2,505.4 120.3,507.7 127.4,507.5 132.5,505.5 137.0,500.9 142.0,498.3 147.0,496.0 150.5,493.0 155.0,490.0 160.8,488.0 166.0,485.0 171.0,484.0 176.0,483.6 179.4,482.8 190.0,473.3 194.9,468.9 198.9,466.4 202.8,464.4 206.8,462.0 210.7,460.5 215.7,457.5 219.6,454.6 223.6,452.1 228.5,448.6 233.9,445.7 238.4,442.2 242.8,437.8 248.2,432.8 251.8,428.8 256.7,424.7 260.4,421.8 265.7,417.3 270.7,412.4 275.2,408.7 278.1,405.8 282.6,402.5 286.3,398.8 291.2,395.1 297.5,391.0 305.6,384.0 313.6,379.5 320.5,374.9 327.4,372.6 336.6,370.9 345.8,368.0 355.0,365.0 364.3,364.0 376.6,362.2 384.8,361.8 391.4,359.0 396.0,356.8 404.9,349.0 412.3,342.0 420.4,338.7 428.4,333.0 435.3,327.2 443.4,320.3 447.9,317.0 455.8,308.0 466.3,298.7 475.5,292.0 479.5,289.5 490.0,288.8 497.9,287.5 505.8,284.9 513.7,283.6 520.0,284.9 525.5,287.2 533.4,290.4 539.7,292.0 546.0,292.8 552.3,290.4 561.8,285.7 574.4,279.3 583.9,274.6 590.2,269.9 594.9,266.0 600.6,262.8 607.2,258.8 613.7,258.8 624.3,260.2 633.5,261.5 646.6,260.8 659.8,259.5 667.7,257.5 674.0,254.2 679.9,254.6 685.2,252.6 690.4,251.3 698.3,248.0 708.8,244.7 716.7,242.7 724.6,240.7 732.5,236.8 743.0,233.5 752.0,230.9 762.5,217.8 774.0,209.1 781.3,204.8 791.4,199.0 801.5,191.8 813.1,181.6 823.3,175.8 828.0,174.4 838.5,172.5 851.0,167.5 863.5,163.0 876.0,160.0 886.0,155.0 890.0,151.3 901.4,139.2 905.4,134.7 908.8,130.3 915.7,122.4 922.1,114.5 928.5,106.1 935.4,97.8 938.4,94.8 942.8,92.3 949.0,90.5 954.3,92.6 959.6,94.7 963.8,94.2" fill="none" stroke="#400080" stroke-width="1" stroke-dasharray="3 2.2"/>
<path d="M0 452h1v1h-1zM1 451h2v1h-2zM3 450h3v1h-3zM6 449h2v1h-2zM8 448h3v1h-3zM11 447h2v1h-2zM13 446h3v1h-3zM16 445h2v1h-2zM18 444h2v1h-2zM20 443h3v1h-3zM23 442h2v1h-2zM25 441h3v1h-3zM28 440h2v1h-2zM30 439h2v1h-2zM32 438h3v1h-3zM35 437h2v1h-2zM37 436h3v1h-3zM40 435h2v1h-2zM42 434h2v1h-2zM44 433h3v1h-3zM47 432h2v1h-2zM49 431h3v1h-3zM52 430h2v1h-2zM54 429h2v1h-2zM56 428h3v1h-3zM59 427h2v1h-2zM61 426h3v1h-3zM64 425h2v1h-2zM66 424h2v1h-2zM68 423h3v1h-3zM71 422h2v1h-2zM73 421h3v1h-3zM76 420h2v1h-2zM78 419h3v1h-3zM81 418h2v1h-2zM83 417h2v1h-2zM85 416h3v1h-3zM88 415h2v1h-2zM90 414h3v1h-3zM93 413h2v1h-2zM95 412h2v1h-2zM97 411h3v1h-3zM100 410h2v1h-2zM102 409h3v1h-3zM105 408h2v1h-2zM107 407h2v1h-2zM109 406h3v1h-3zM112 405h2v1h-2zM114 404h3v1h-3zM117 403h2v1h-2zM119 402h2v1h-2zM121 401h3v1h-3zM124 400h2v1h-2zM126 399h3v1h-3zM129 398h2v1h-2zM131 397h2v1h-2zM133 396h3v1h-3zM136 395h2v1h-2zM138 394h3v1h-3zM141 393h2v1h-2zM143 392h3v1h-3zM146 391h2v1h-2zM148 390h2v1h-2zM150 389h3v1h-3zM153 388h2v1h-2zM155 387h3v1h-3zM158 386h2v1h-2zM160 385h2v1h-2zM162 384h3v1h-3zM165 383h2v1h-2zM167 382h3v1h-3zM170 381h2v1h-2zM172 380h2v1h-2zM174 379h3v1h-3zM177 378h2v1h-2zM179 377h3v1h-3zM182 376h2v1h-2zM184 375h2v1h-2zM186 374h3v1h-3zM189 373h2v1h-2zM191 372h3v1h-3zM194 371h2v1h-2zM196 370h2v1h-2zM198 369h3v1h-3zM201 368h2v1h-2zM203 367h3v1h-3zM206 366h2v1h-2zM208 365h3v1h-3zM211 364h2v1h-2zM213 363h2v1h-2zM215 362h3v1h-3zM218 361h2v1h-2zM220 360h3v1h-3zM223 359h2v1h-2zM225 358h2v1h-2zM227 357h3v1h-3zM230 356h2v1h-2zM232 355h3v1h-3zM235 354h2v1h-2zM237 353h2v1h-2zM239 352h3v1h-3zM242 351h2v1h-2zM244 350h3v1h-3zM247 349h2v1h-2zM249 348h2v1h-2zM251 347h3v1h-3zM254 346h2v1h-2zM256 345h3v1h-3zM259 344h2v1h-2zM261 343h3v1h-3zM264 342h2v1h-2zM266 341h2v1h-2zM268 340h3v1h-3zM271 339h2v1h-2zM273 338h3v1h-3zM276 337h2v1h-2zM278 336h2v1h-2zM280 335h3v1h-3zM283 334h2v1h-2zM285 333h3v1h-3zM288 332h2v1h-2zM290 331h2v1h-2zM292 330h3v1h-3zM295 329h2v1h-2zM297 328h3v1h-3zM300 327h2v1h-2zM302 326h2v1h-2zM304 325h3v1h-3zM307 324h2v1h-2zM309 323h3v1h-3zM312 322h2v1h-2zM314 321h2v1h-2zM316 320h3v1h-3zM319 319h2v1h-2zM321 318h3v1h-3zM324 317h2v1h-2zM326 316h3v1h-3zM329 315h2v1h-2zM331 314h2v1h-2zM333 313h3v1h-3zM336 312h2v1h-2zM338 311h3v1h-3zM341 310h2v1h-2zM343 309h2v1h-2zM345 308h3v1h-3zM348 307h2v1h-2zM350 306h3v1h-3zM353 305h2v1h-2zM355 304h2v1h-2zM357 303h3v1h-3zM360 302h2v1h-2zM362 301h3v1h-3zM365 300h2v1h-2zM367 299h2v1h-2zM369 298h3v1h-3zM372 297h2v1h-2zM374 296h3v1h-3zM377 295h2v1h-2zM379 294h2v1h-2zM381 293h3v1h-3zM384 292h2v1h-2zM386 291h3v1h-3zM389 290h2v1h-2zM391 289h3v1h-3zM394 288h2v1h-2zM396 287h2v1h-2zM398 286h3v1h-3zM401 285h2v1h-2zM403 284h3v1h-3zM406 283h2v1h-2zM408 282h2v1h-2zM410 281h3v1h-3zM413 280h2v1h-2zM415 279h3v1h-3zM418 278h2v1h-2zM420 277h2v1h-2zM422 276h3v1h-3zM425 275h2v1h-2zM427 274h3v1h-3zM430 273h2v1h-2zM432 272h2v1h-2zM434 271h3v1h-3zM437 270h2v1h-2zM439 269h3v1h-3zM442 268h2v1h-2zM444 267h2v1h-2zM446 266h3v1h-3zM449 265h2v1h-2zM451 264h3v1h-3zM454 263h2v1h-2zM456 262h3v1h-3zM459 261h2v1h-2zM461 260h2v1h-2zM463 259h3v1h-3zM466 258h2v1h-2zM468 257h3v1h-3zM471 256h2v1h-2zM473 255h2v1h-2zM475 254h3v1h-3zM478 253h2v1h-2zM480 252h3v1h-3zM483 251h2v1h-2zM485 250h2v1h-2zM487 249h3v1h-3zM490 248h2v1h-2zM492 247h3v1h-3zM495 246h2v1h-2zM497 245h2v1h-2zM499 244h3v1h-3zM502 243h2v1h-2zM504 242h3v1h-3zM507 241h2v1h-2zM509 240h3v1h-3zM512 239h2v1h-2zM514 238h2v1h-2zM516 237h3v1h-3zM519 236h2v1h-2zM521 235h3v1h-3zM524 234h2v1h-2zM526 233h2v1h-2zM528 232h3v1h-3zM531 231h2v1h-2zM533 230h3v1h-3zM536 229h2v1h-2zM538 228h2v1h-2zM540 227h3v1h-3zM543 226h2v1h-2zM545 225h3v1h-3zM548 224h2v1h-2zM550 223h2v1h-2zM552 222h3v1h-3zM555 221h2v1h-2zM557 220h3v1h-3zM560 219h2v1h-2zM562 218h2v1h-2zM564 217h3v1h-3zM567 216h2v1h-2zM569 215h3v1h-3zM572 214h2v1h-2zM574 213h3v1h-3zM577 212h2v1h-2zM579 211h2v1h-2zM581 210h3v1h-3zM584 209h2v1h-2zM586 208h3v1h-3zM589 207h2v1h-2zM591 206h2v1h-2zM593 205h3v1h-3zM596 204h2v1h-2zM598 203h3v1h-3zM601 202h2v1h-2zM603 201h2v1h-2zM605 200h3v1h-3zM608 199h2v1h-2zM610 198h3v1h-3zM613 197h2v1h-2zM615 196h2v1h-2zM617 195h3v1h-3zM620 194h2v1h-2zM622 193h3v1h-3zM625 192h2v1h-2zM627 191h2v1h-2zM629 190h3v1h-3zM632 189h2v1h-2zM634 188h3v1h-3zM637 187h2v1h-2zM639 186h3v1h-3zM642 185h2v1h-2zM644 184h2v1h-2zM646 183h3v1h-3zM649 182h2v1h-2zM651 181h3v1h-3zM654 180h2v1h-2zM656 179h2v1h-2zM658 178h3v1h-3zM661 177h2v1h-2zM663 176h3v1h-3zM666 175h2v1h-2zM668 174h2v1h-2zM670 173h3v1h-3zM673 172h2v1h-2zM675 171h3v1h-3zM678 170h2v1h-2zM680 169h2v1h-2zM682 168h3v1h-3zM685 167h2v1h-2zM687 166h3v1h-3zM690 165h2v1h-2zM692 164h2v1h-2zM694 163h3v1h-3zM697 162h2v1h-2zM699 161h3v1h-3zM702 160h2v1h-2zM704 159h3v1h-3zM707 158h2v1h-2zM709 157h2v1h-2zM711 156h3v1h-3zM714 155h2v1h-2zM716 154h3v1h-3zM719 153h2v1h-2zM721 152h2v1h-2zM723 151h3v1h-3zM726 150h2v1h-2zM728 149h3v1h-3zM731 148h2v1h-2zM733 147h2v1h-2zM735 146h3v1h-3zM738 145h2v1h-2zM740 144h3v1h-3zM743 143h2v1h-2zM745 142h2v1h-2zM747 141h3v1h-3zM750 140h2v1h-2zM752 139h3v1h-3zM755 138h2v1h-2zM757 137h3v1h-3zM760 136h2v1h-2zM762 135h2v1h-2zM764 134h3v1h-3zM767 133h2v1h-2zM769 132h3v1h-3zM772 131h2v1h-2zM774 130h2v1h-2zM776 129h3v1h-3zM779 128h2v1h-2zM781 127h3v1h-3zM784 126h2v1h-2zM786 125h2v1h-2zM788 124h3v1h-3zM791 123h2v1h-2zM793 122h3v1h-3zM796 121h2v1h-2zM798 120h2v1h-2zM800 119h3v1h-3zM803 118h2v1h-2zM805 117h3v1h-3zM808 116h2v1h-2zM810 115h2v1h-2zM812 114h3v1h-3zM815 113h2v1h-2zM817 112h3v1h-3zM820 111h2v1h-2zM822 110h3v1h-3zM825 109h2v1h-2zM827 108h2v1h-2zM829 107h3v1h-3zM832 106h2v1h-2zM834 105h3v1h-3zM837 104h2v1h-2zM839 103h2v1h-2zM841 102h3v1h-3zM844 101h2v1h-2zM846 100h3v1h-3zM849 99h2v1h-2zM851 98h2v1h-2zM853 97h3v1h-3zM856 96h2v1h-2zM858 95h3v1h-3zM861 94h2v1h-2zM863 93h2v1h-2zM865 92h3v1h-3zM868 91h2v1h-2zM870 90h3v1h-3zM873 89h2v1h-2zM875 88h2v1h-2zM877 87h3v1h-3zM880 86h2v1h-2zM882 85h3v1h-3zM885 84h2v1h-2zM887 83h3v1h-3zM890 82h2v1h-2zM892 81h2v1h-2zM894 80h3v1h-3zM897 79h2v1h-2zM899 78h3v1h-3zM902 77h2v1h-2zM904 76h2v1h-2zM906 75h3v1h-3zM909 74h2v1h-2zM911 73h3v1h-3zM914 72h2v1h-2zM916 71h2v1h-2zM918 70h3v1h-3zM921 69h2v1h-2zM923 68h3v1h-3zM926 67h2v1h-2zM928 66h2v1h-2zM930 65h3v1h-3zM933 64h2v1h-2zM935 63h3v1h-3zM938 62h2v1h-2zM940 61h2v1h-2zM942 60h3v1h-3zM945 59h2v1h-2zM947 58h3v1h-3zM950 57h2v1h-2zM952 56h3v1h-3zM955 55h2v1h-2zM957 54h2v1h-2zM959 53h3v1h-3zM962 52h2v1h-2zM964 51h3v1h-3zM967 50h2v1h-2zM969 49h2v1h-2zM971 48h3v1h-3zM974 47h2v1h-2zM976 46h3v1h-3zM979 45h2v1h-2zM981 44h2v1h-2z" fill="#4a0000"/>
<path d="M0 577h1v1h-1zM1 576h2v1h-2zM3 575h2v1h-2zM5 574h3v1h-3zM8 573h2v1h-2zM10 572h2v1h-2zM12 571h2v1h-2zM14 570h2v1h-2zM16 569h3v1h-3zM19 568h2v1h-2zM21 567h2v1h-2zM23 566h2v1h-2zM25 565h2v1h-2zM27 564h2v1h-2zM29 563h3v1h-3zM32 562h2v1h-2zM34 561h2v1h-2zM36 560h2v1h-2zM38 559h2v1h-2zM40 558h2v1h-2zM42 557h3v1h-3zM45 556h2v1h-2zM47 555h2v1h-2zM49 554h2v1h-2zM51 553h2v1h-2zM53 552h3v1h-3zM56 551h2v1h-2zM58 550h2v1h-2zM60 549h2v1h-2zM62 548h2v1h-2zM64 547h2v1h-2zM66 546h3v1h-3zM69 545h2v1h-2zM71 544h2v1h-2zM73 543h2v1h-2zM75 542h2v1h-2zM77 541h3v1h-3zM80 540h2v1h-2zM82 539h2v1h-2zM84 538h2v1h-2zM86 537h2v1h-2zM88 536h2v1h-2zM90 535h3v1h-3zM93 534h2v1h-2zM95 533h2v1h-2zM97 532h2v1h-2zM99 531h2v1h-2zM101 530h3v1h-3zM104 529h2v1h-2zM106 528h2v1h-2zM108 527h2v1h-2zM110 526h2v1h-2zM112 525h2v1h-2zM114 524h3v1h-3zM117 523h2v1h-2zM119 522h2v1h-2zM121 521h2v1h-2zM123 520h2v1h-2zM125 519h3v1h-3zM128 518h2v1h-2zM130 517h2v1h-2zM132 516h2v1h-2zM134 515h2v1h-2zM136 514h2v1h-2zM138 513h3v1h-3zM141 512h2v1h-2zM143 511h2v1h-2zM145 510h2v1h-2zM147 509h2v1h-2zM149 508h3v1h-3zM152 507h2v1h-2zM154 506h2v1h-2zM156 505h2v1h-2zM158 504h2v1h-2zM160 503h2v1h-2zM162 502h3v1h-3zM165 501h2v1h-2zM167 500h2v1h-2zM169 499h2v1h-2zM171 498h2v1h-2zM173 497h3v1h-3zM176 496h2v1h-2zM178 495h2v1h-2zM180 494h2v1h-2zM182 493h2v1h-2zM184 492h2v1h-2zM186 491h3v1h-3zM189 490h2v1h-2zM191 489h2v1h-2zM193 488h2v1h-2zM195 487h2v1h-2zM197 486h3v1h-3zM200 485h2v1h-2zM202 484h2v1h-2zM204 483h2v1h-2zM206 482h2v1h-2zM208 481h2v1h-2zM210 480h3v1h-3zM213 479h2v1h-2zM215 478h2v1h-2zM217 477h2v1h-2zM219 476h2v1h-2zM221 475h3v1h-3zM224 474h2v1h-2zM226 473h2v1h-2zM228 472h2v1h-2zM230 471h2v1h-2zM232 470h2v1h-2zM234 469h3v1h-3zM237 468h2v1h-2zM239 467h2v1h-2zM241 466h2v1h-2zM243 465h2v1h-2zM245 464h3v1h-3zM248 463h2v1h-2zM250 462h2v1h-2zM252 461h2v1h-2zM254 460h2v1h-2zM256 459h2v1h-2zM258 458h3v1h-3zM261 457h2v1h-2zM263 456h2v1h-2zM265 455h2v1h-2zM267 454h2v1h-2zM269 453h3v1h-3zM272 452h2v1h-2zM274 451h2v1h-2zM276 450h2v1h-2zM278 449h2v1h-2zM280 448h2v1h-2zM282 447h3v1h-3zM285 446h2v1h-2zM287 445h2v1h-2zM289 444h2v1h-2zM291 443h2v1h-2zM293 442h2v1h-2zM295 441h3v1h-3zM298 440h2v1h-2zM300 439h2v1h-2zM302 438h2v1h-2zM304 437h2v1h-2zM306 436h3v1h-3zM309 435h2v1h-2zM311 434h2v1h-2zM313 433h2v1h-2zM315 432h2v1h-2zM317 431h2v1h-2zM319 430h3v1h-3zM322 429h2v1h-2zM324 428h2v1h-2zM326 427h2v1h-2zM328 426h2v1h-2zM330 425h3v1h-3zM333 424h2v1h-2zM335 423h2v1h-2zM337 422h2v1h-2zM339 421h2v1h-2zM341 420h2v1h-2zM343 419h3v1h-3zM346 418h2v1h-2zM348 417h2v1h-2zM350 416h2v1h-2zM352 415h2v1h-2zM354 414h3v1h-3zM357 413h2v1h-2zM359 412h2v1h-2zM361 411h2v1h-2zM363 410h2v1h-2zM365 409h2v1h-2zM367 408h3v1h-3zM370 407h2v1h-2zM372 406h2v1h-2zM374 405h2v1h-2zM376 404h2v1h-2zM378 403h3v1h-3zM381 402h2v1h-2zM383 401h2v1h-2zM385 400h2v1h-2zM387 399h2v1h-2zM389 398h2v1h-2zM391 397h3v1h-3zM394 396h2v1h-2zM396 395h2v1h-2zM398 394h2v1h-2zM400 393h2v1h-2zM402 392h3v1h-3zM405 391h2v1h-2zM407 390h2v1h-2zM409 389h2v1h-2zM411 388h2v1h-2zM413 387h2v1h-2zM415 386h3v1h-3zM418 385h2v1h-2zM420 384h2v1h-2zM422 383h2v1h-2zM424 382h2v1h-2zM426 381h3v1h-3zM429 380h2v1h-2zM431 379h2v1h-2zM433 378h2v1h-2zM435 377h2v1h-2zM437 376h2v1h-2zM439 375h3v1h-3zM442 374h2v1h-2zM444 373h2v1h-2zM446 372h2v1h-2zM448 371h2v1h-2zM450 370h3v1h-3zM453 369h2v1h-2zM455 368h2v1h-2zM457 367h2v1h-2zM459 366h2v1h-2zM461 365h2v1h-2zM463 364h3v1h-3zM466 363h2v1h-2zM468 362h2v1h-2zM470 361h2v1h-2zM472 360h2v1h-2zM474 359h3v1h-3zM477 358h2v1h-2zM479 357h2v1h-2zM481 356h2v1h-2zM483 355h2v1h-2zM485 354h2v1h-2zM487 353h3v1h-3zM490 352h2v1h-2zM492 351h2v1h-2zM494 350h2v1h-2zM496 349h2v1h-2zM498 348h3v1h-3zM501 347h2v1h-2zM503 346h2v1h-2zM505 345h2v1h-2zM507 344h2v1h-2zM509 343h2v1h-2zM511 342h3v1h-3zM514 341h2v1h-2zM516 340h2v1h-2zM518 339h2v1h-2zM520 338h2v1h-2zM522 337h3v1h-3zM525 336h2v1h-2zM527 335h2v1h-2zM529 334h2v1h-2zM531 333h2v1h-2zM533 332h2v1h-2zM535 331h3v1h-3zM538 330h2v1h-2zM540 329h2v1h-2zM542 328h2v1h-2zM544 327h2v1h-2zM546 326h2v1h-2zM548 325h3v1h-3zM551 324h2v1h-2zM553 323h2v1h-2zM555 322h2v1h-2zM557 321h2v1h-2zM559 320h3v1h-3zM562 319h2v1h-2zM564 318h2v1h-2zM566 317h2v1h-2zM568 316h2v1h-2zM570 315h2v1h-2zM572 314h3v1h-3zM575 313h2v1h-2zM577 312h2v1h-2zM579 311h2v1h-2zM581 310h2v1h-2zM583 309h3v1h-3zM586 308h2v1h-2zM588 307h2v1h-2zM590 306h2v1h-2zM592 305h2v1h-2zM594 304h2v1h-2zM596 303h3v1h-3zM599 302h2v1h-2zM601 301h2v1h-2zM603 300h2v1h-2zM605 299h2v1h-2zM607 298h3v1h-3zM610 297h2v1h-2zM612 296h2v1h-2zM614 295h2v1h-2zM616 294h2v1h-2zM618 293h2v1h-2zM620 292h3v1h-3zM623 291h2v1h-2zM625 290h2v1h-2zM627 289h2v1h-2zM629 288h2v1h-2zM631 287h3v1h-3zM634 286h2v1h-2zM636 285h2v1h-2zM638 284h2v1h-2zM640 283h2v1h-2zM642 282h2v1h-2zM644 281h3v1h-3zM647 280h2v1h-2zM649 279h2v1h-2zM651 278h2v1h-2zM653 277h2v1h-2zM655 276h3v1h-3zM658 275h2v1h-2zM660 274h2v1h-2zM662 273h2v1h-2zM664 272h2v1h-2zM666 271h2v1h-2zM668 270h3v1h-3zM671 269h2v1h-2zM673 268h2v1h-2zM675 267h2v1h-2zM677 266h2v1h-2zM679 265h3v1h-3zM682 264h2v1h-2zM684 263h2v1h-2zM686 262h2v1h-2zM688 261h2v1h-2zM690 260h2v1h-2zM692 259h3v1h-3zM695 258h2v1h-2zM697 257h2v1h-2zM699 256h2v1h-2zM701 255h2v1h-2zM703 254h3v1h-3zM706 253h2v1h-2zM708 252h2v1h-2zM710 251h2v1h-2zM712 250h2v1h-2zM714 249h2v1h-2zM716 248h3v1h-3zM719 247h2v1h-2zM721 246h2v1h-2zM723 245h2v1h-2zM725 244h2v1h-2zM727 243h3v1h-3zM730 242h2v1h-2zM732 241h2v1h-2zM734 240h2v1h-2zM736 239h2v1h-2zM738 238h2v1h-2zM740 237h3v1h-3zM743 236h2v1h-2zM745 235h2v1h-2zM747 234h2v1h-2zM749 233h2v1h-2zM751 232h3v1h-3zM754 231h2v1h-2zM756 230h2v1h-2zM758 229h2v1h-2zM760 228h2v1h-2zM762 227h2v1h-2zM764 226h3v1h-3zM767 225h2v1h-2zM769 224h2v1h-2zM771 223h2v1h-2zM773 222h2v1h-2zM775 221h3v1h-3zM778 220h2v1h-2zM780 219h2v1h-2zM782 218h2v1h-2zM784 217h2v1h-2zM786 216h2v1h-2zM788 215h3v1h-3zM791 214h2v1h-2zM793 213h2v1h-2zM795 212h2v1h-2zM797 211h2v1h-2zM799 210h2v1h-2zM801 209h3v1h-3zM804 208h2v1h-2zM806 207h2v1h-2zM808 206h2v1h-2zM810 205h2v1h-2zM812 204h3v1h-3zM815 203h2v1h-2zM817 202h2v1h-2zM819 201h2v1h-2zM821 200h2v1h-2zM823 199h2v1h-2zM825 198h3v1h-3zM828 197h2v1h-2zM830 196h2v1h-2zM832 195h2v1h-2zM834 194h2v1h-2zM836 193h3v1h-3zM839 192h2v1h-2zM841 191h2v1h-2zM843 190h2v1h-2zM845 189h2v1h-2zM847 188h2v1h-2zM849 187h3v1h-3zM852 186h2v1h-2zM854 185h2v1h-2zM856 184h2v1h-2zM858 183h2v1h-2zM860 182h3v1h-3zM863 181h2v1h-2zM865 180h2v1h-2zM867 179h2v1h-2zM869 178h2v1h-2zM871 177h2v1h-2zM873 176h3v1h-3zM876 175h2v1h-2zM878 174h2v1h-2zM880 173h2v1h-2zM882 172h2v1h-2zM884 171h3v1h-3zM887 170h2v1h-2zM889 169h2v1h-2zM891 168h2v1h-2zM893 167h2v1h-2zM895 166h2v1h-2zM897 165h3v1h-3zM900 164h2v1h-2zM902 163h2v1h-2zM904 162h2v1h-2zM906 161h2v1h-2zM908 160h3v1h-3zM911 159h2v1h-2zM913 158h2v1h-2zM915 157h2v1h-2zM917 156h2v1h-2zM919 155h2v1h-2zM921 154h3v1h-3zM924 153h2v1h-2zM926 152h2v1h-2zM928 151h2v1h-2zM930 150h2v1h-2zM932 149h3v1h-3zM935 148h2v1h-2zM937 147h2v1h-2zM939 146h2v1h-2zM941 145h2v1h-2zM943 144h2v1h-2zM945 143h3v1h-3zM948 142h2v1h-2zM950 141h2v1h-2zM952 140h2v1h-2zM954 139h2v1h-2zM956 138h3v1h-3zM959 137h2v1h-2zM961 136h2v1h-2zM963 135h2v1h-2zM965 134h2v1h-2zM967 133h2v1h-2zM969 132h3v1h-3zM972 131h2v1h-2zM974 130h2v1h-2zM976 129h2v1h-2zM978 128h2v1h-2zM980 127h3v1h-3z" fill="#4a0000"/>
<ellipse cx="924" cy="55.4" rx="20.6" ry="15.6" fill="none" stroke="#0000ff" stroke-width="1"/>
<rect x="896" y="71" width="51" height="2" fill="#ff0000"/>
<text x="342" y="12" class="ax" textLength="298" lengthAdjust="spacingAndGlyphs">NASDAQ 60MIN (6,770.40, 6,770.66, 6,770.40, 6,770.66, +0.43018)</text>
<text x="852" y="22" class="bd" fill="#0000ff" stroke="#0000ff" stroke-width="0.35" textLength="93" lengthAdjust="spacingAndGlyphs">TRAMPA ALCISTA</text>
<text x="73" y="546" class="bd" fill="#000" stroke="#000" stroke-width="0.45" textLength="36" lengthAdjust="spacingAndGlyphs">TRUMP</text>
</svg>


</body></html>
